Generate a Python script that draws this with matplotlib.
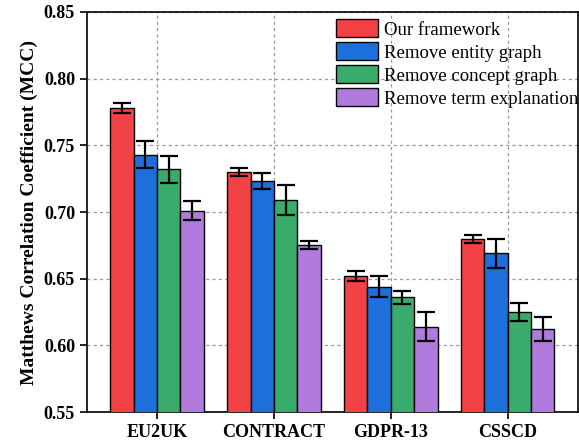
import numpy as np
import matplotlib.pyplot as plt

plt.rcParams['font.family'] = ['Liberation Serif', 'DejaVu Serif']

# datos
datasets = ["EU2UK", "CONTRACT", "GDPR-13", "CSSCD"]
labels = ["Our framework", "Remove entity graph", "Remove concept graph", "Remove term explanation"]
ours = [0.778, 0.730, 0.652, 0.680]
ours_err = [0.004, 0.003, 0.004, 0.003]
no_entity = [0.743, 0.723, 0.644, 0.669]
no_entity_err = [0.010, 0.006, 0.008, 0.011]
no_concept = [0.732, 0.709, 0.636, 0.625]
no_concept_err = [0.010, 0.011, 0.005, 0.007]
no_term = [0.701, 0.675, 0.614, 0.612]
no_term_err = [0.007, 0.003, 0.011, 0.009]
colores = ["#f24245", "#1d6fdc", "#39ab6b", "#b07bdc"]

series = [ours, no_entity, no_concept, no_term]
errores = [ours_err, no_entity_err, no_concept_err, no_term_err]

fig = plt.figure(figsize=(5.79, 4.44), dpi=100)
ax = fig.add_axes([0.150, 0.072, 0.848, 0.901])

x = np.arange(len(datasets))
ancho = 0.2
for i in range(4):
    ax.bar(x + (i - 1.5) * ancho, series[i], ancho, yerr=errores[i],
           color=colores[i], edgecolor="black", linewidth=1.0, label=labels[i],
           capsize=6.5, error_kw=dict(elinewidth=1.6, capthick=1.6, ecolor="black"),
           zorder=3)

ax.set_ylim(0.55, 0.85)
ax.set_xlim(-0.6, 3.6)
ax.set_yticks(np.arange(0.55, 0.851, 0.05))
ax.set_yticklabels([f"{v:.2f}" for v in np.arange(0.55, 0.851, 0.05)])
ax.set_xticks(x)
ax.set_xticklabels(datasets)
for t in ax.get_xticklabels() + ax.get_yticklabels():
    t.set_fontweight("bold")
    t.set_fontsize(13)
ax.tick_params(direction="out", length=5, width=1.2)
ax.set_ylabel("Matthews Correlation Coefficient (MCC)", fontsize=14, fontweight="bold")
ax.grid(True, linestyle=(0, (2.5, 2.5)), color="#999999", linewidth=0.9, zorder=0)
for s in ax.spines.values():
    s.set_linewidth(1.2)

ax.legend(loc="upper right", bbox_to_anchor=(1.016, 1.0), frameon=False,
          fontsize=13.5, handlelength=2.25, handleheight=1.07, labelspacing=0.2,
          handletextpad=0.3, borderaxespad=0.1, borderpad=0.3)

plt.savefig("out.png", dpi=100)
